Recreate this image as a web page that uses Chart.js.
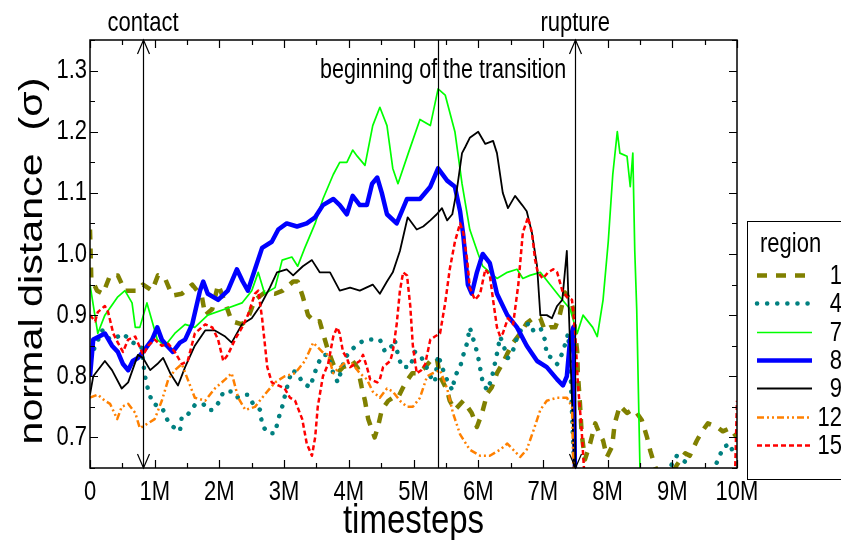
<!DOCTYPE html>
<html>
<head>
<meta charset="utf-8">
<script src="https://cdn.jsdelivr.net/npm/chart.js@4.4.1/dist/chart.umd.min.js"></script>
<style>
  html, body { margin: 0; padding: 0; background: #fff; }
  canvas { display: block; }
</style>
</head>
<body>
<canvas id="c" width="841" height="540"></canvas>
<script>
// Normal distance per region versus simulation timesteps (in millions).
const xTicks = [0, 1, 2, 3, 4, 5, 6, 7, 8, 9, 10];
const yTicks = [0.7, 0.8, 0.9, 1.0, 1.1, 1.2, 1.3];
const regionNames = ['1', '4', '7', '8', '9', '12', '15'];
const xTitle = 'timesteps';
const yTitle = 'normal distance  (σ)';
const legendTitle = 'region';

const events = [
  { t: 0.82, label: 'contact', arrows: true },
  { t: 5.38, label: 'beginning of the transition', arrows: false },
  { t: 7.5, label: 'rupture', arrows: true }
];

// [timestep (M), distance]; null breaks the curve where it leaves the plotted range
const region1 = [[0,1.04],[0.02,0.96],[0.11,0.94],[0.2,0.935],[0.31,0.965],[0.43,0.965],[0.54,0.94],[0.74,0.94],[0.82,0.95],[0.96,0.94],[1.05,0.965],[1.16,0.96],[1.27,0.932],[1.42,0.935],[1.58,0.95],[1.73,0.93],[1.78,0.9],[1.89,0.91],[1.98,0.95],[2.09,0.92],[2.19,0.89],[2.35,0.885],[2.44,0.895],[2.55,0.925],[2.7,0.937],[2.86,0.935],[2.98,0.94],[3.14,0.955],[3.21,0.955],[3.29,0.93],[3.37,0.9],[3.48,0.888],[3.55,0.89],[3.63,0.86],[3.68,0.842],[3.76,0.82],[3.83,0.806],[3.91,0.815],[3.99,0.818],[4.06,0.825],[4.14,0.813],[4.2,0.782],[4.25,0.76],[4.3,0.73],[4.36,0.712],[4.4,0.7],[4.45,0.717],[4.51,0.745],[4.61,0.76],[4.68,0.765],[4.76,0.765],[4.84,0.782],[4.9,0.793],[4.98,0.805],[5.07,0.805],[5.18,0.815],[5.26,0.825],[5.36,0.83],[5.41,0.8],[5.52,0.777],[5.56,0.76],[5.64,0.745],[5.77,0.76],[5.9,0.74],[5.98,0.717],[6.06,0.74],[6.14,0.772],[6.21,0.782],[6.29,0.805],[6.37,0.82],[6.45,0.837],[6.54,0.855],[6.65,0.87],[6.75,0.887],[6.85,0.895],[6.96,0.895],[7.03,0.875],[7.11,0.88],[7.19,0.88],[7.26,0.9],[7.34,0.937],[7.42,0.925],[7.47,0.91],[7.5,0.87],[7.53,0.84],[7.54,0.805],[7.57,0.76],[7.6,0.705],[7.65,0.664],[7.73,0.69],[7.81,0.723],[7.88,0.705],[7.93,0.695],[7.99,0.668],[8.07,0.685],[8.11,0.723],[8.19,0.752],[8.3,0.74],[8.38,0.745],[8.42,0.745],[8.53,0.728],[8.61,0.7],[8.66,0.678],[8.7,0.664],[8.76,0.645],[8.8,null],[9.02,0.645],[9.07,0.655],[9.13,0.664],[9.2,0.674],[9.27,0.67],[9.38,0.695],[9.46,0.71],[9.55,0.723],[9.69,0.717],[9.78,0.71],[9.89,0.715],[10,0.7]];

const region4 = [[0,0.83],[0.19,0.875],[0.31,0.86],[0.43,0.865],[0.51,0.87],[0.66,0.855],[0.79,0.85],[0.85,0.8],[0.9,0.777],[0.97,0.755],[1.11,0.75],[1.21,0.725],[1.31,0.715],[1.39,0.71],[1.42,0.735],[1.51,0.737],[1.62,0.753],[1.75,0.755],[1.82,0.745],[1.9,0.745],[2.01,0.76],[2.06,0.775],[2.19,0.775],[2.27,0.765],[2.35,0.77],[2.44,0.77],[2.52,0.755],[2.63,0.745],[2.66,0.72],[2.75,0.707],[2.86,0.707],[2.91,0.73],[2.97,0.75],[3.04,0.78],[3.12,0.81],[3.21,0.805],[3.28,0.79],[3.4,0.782],[3.52,0.82],[3.6,0.835],[3.68,0.835],[3.76,0.805],[3.83,0.79],[3.94,0.83],[4.06,0.845],[4.17,0.855],[4.28,0.86],[4.37,0.86],[4.48,0.86],[4.56,0.84],[4.67,0.85],[4.71,0.86],[4.76,0.835],[4.82,0.815],[4.95,0.815],[5.02,0.84],[5.1,0.835],[5.18,0.82],[5.26,0.8],[5.33,0.79],[5.38,0.835],[5.49,0.8],[5.6,0.777],[5.64,0.8],[5.72,0.815],[5.77,0.835],[5.83,0.855],[5.87,0.88],[5.92,0.862],[5.99,0.837],[6.07,0.79],[6.14,0.777],[6.21,0.797],[6.29,0.837],[6.34,0.865],[6.46,0.83],[6.54,0.843],[6.62,0.87],[6.72,0.883],[6.8,0.887],[6.85,0.875],[6.96,0.88],[7.03,0.86],[7.06,0.835],[7.14,0.83],[7.22,0.82],[7.31,0.84],[7.39,0.87],[7.43,0.8],[7.47,0.68],[7.53,0.63],[7.56,null],[8.93,0.64],[8.96,0.65],[9.07,0.67],[9.2,0.66],[9.27,0.645],[9.3,null],[9.6,0.645],[9.63,0.648],[9.71,0.663],[9.78,0.683],[9.89,0.69],[9.94,0.675],[10,0.67]];

const region7 = [[0,0.95],[0.12,0.87],[0.23,0.9],[0.43,0.93],[0.54,0.94],[0.65,0.92],[0.7,0.88],[0.77,0.88],[0.88,0.92],[1.04,0.86],[1.16,0.85],[1.31,0.87],[1.47,0.885],[1.62,0.88],[1.82,0.9],[2.09,0.91],[2.35,0.92],[2.5,0.94],[2.6,0.97],[2.7,0.935],[2.86,0.945],[2.97,0.99],[3.12,0.995],[3.21,0.98],[3.32,1.01],[3.48,1.05],[3.6,1.09],[3.76,1.13],[3.86,1.15],[3.97,1.15],[4.06,1.17],[4.13,1.16],[4.25,1.145],[4.37,1.21],[4.48,1.24],[4.59,1.21],[4.68,1.14],[4.76,1.115],[4.92,1.165],[5.1,1.22],[5.26,1.21],[5.38,1.27],[5.49,1.26],[5.64,1.2],[5.75,1.115],[5.87,1.04],[6.0,1.0],[6.07,0.98],[6.29,0.96],[6.45,0.97],[6.6,0.975],[6.69,0.96],[6.8,0.965],[6.96,0.97],[7.11,0.95],[7.26,0.93],[7.42,0.91],[7.53,0.87],[7.62,0.9],[7.77,0.88],[7.84,0.865],[7.93,0.925],[8.01,1.02],[8.08,1.13],[8.15,1.2],[8.19,1.165],[8.3,1.16],[8.35,1.11],[8.39,1.165],[8.42,1.005],[8.45,0.91],[8.5,0.65],[8.52,0.6]];

const region8 = [[0,0.8],[0.05,0.86],[0.23,0.87],[0.34,0.85],[0.43,0.84],[0.51,0.82],[0.59,0.81],[0.66,0.825],[0.74,0.83],[0.82,0.84],[0.96,0.86],[1.04,0.88],[1.11,0.86],[1.19,0.85],[1.28,0.84],[1.39,0.855],[1.47,0.86],[1.58,0.885],[1.7,0.94],[1.75,0.955],[1.82,0.935],[1.98,0.925],[2.13,0.94],[2.27,0.975],[2.36,0.955],[2.44,0.94],[2.55,0.975],[2.66,1.01],[2.81,1.02],[2.91,1.04],[3.04,1.05],[3.2,1.045],[3.35,1.05],[3.48,1.06],[3.6,1.08],[3.76,1.09],[3.86,1.08],[3.97,1.065],[4.06,1.095],[4.17,1.08],[4.28,1.08],[4.36,1.115],[4.44,1.125],[4.51,1.1],[4.59,1.065],[4.74,1.05],[4.9,1.09],[5.1,1.09],[5.26,1.11],[5.38,1.14],[5.52,1.12],[5.64,1.11],[5.72,1.07],[5.77,1.03],[5.84,0.95],[5.9,0.935],[5.98,0.97],[6.07,1.0],[6.18,0.985],[6.29,0.935],[6.45,0.9],[6.6,0.88],[6.75,0.85],[6.91,0.825],[7.06,0.815],[7.22,0.795],[7.31,0.785],[7.37,0.8],[7.42,0.86],[7.47,0.88],[7.5,0.6]];

const region9 = [[0,0.77],[0.05,0.8],[0.23,0.825],[0.34,0.81],[0.49,0.78],[0.59,0.79],[0.74,0.835],[0.82,0.83],[0.93,0.81],[1.04,0.82],[1.13,0.83],[1.24,0.805],[1.36,0.785],[1.47,0.815],[1.62,0.85],[1.78,0.875],[1.93,0.875],[2.09,0.865],[2.19,0.855],[2.35,0.885],[2.5,0.895],[2.63,0.915],[2.78,0.945],[2.89,0.97],[3.04,0.975],[3.14,0.965],[3.29,0.98],[3.43,0.99],[3.55,0.97],[3.71,0.97],[3.86,0.94],[4.02,0.945],[4.17,0.94],[4.37,0.95],[4.48,0.935],[4.59,0.955],[4.68,0.97],[4.79,1.005],[4.91,1.06],[5.05,1.04],[5.15,1.045],[5.26,1.055],[5.36,1.065],[5.44,1.075],[5.52,1.055],[5.6,1.065],[5.67,1.105],[5.75,1.165],[5.8,1.175],[5.87,1.19],[6.0,1.2],[6.11,1.18],[6.23,1.185],[6.29,1.165],[6.38,1.1],[6.46,1.075],[6.57,1.095],[6.68,1.08],[6.75,1.07],[6.83,1.035],[6.91,0.98],[6.96,0.9],[7.06,0.9],[7.14,0.895],[7.22,0.915],[7.3,0.925],[7.37,1.005],[7.4,0.91],[7.45,0.76],[7.5,0.6]];

const region12 = [[0,0.765],[0.12,0.77],[0.23,0.76],[0.31,0.755],[0.42,0.73],[0.49,0.75],[0.59,0.755],[0.7,0.74],[0.77,0.715],[0.85,0.72],[1.0,0.73],[1.11,0.76],[1.21,0.795],[1.31,0.81],[1.42,0.82],[1.51,0.795],[1.62,0.765],[1.78,0.76],[1.93,0.78],[2.09,0.795],[2.19,0.805],[2.29,0.765],[2.4,0.745],[2.55,0.75],[2.7,0.77],[2.86,0.79],[3.01,0.8],[3.17,0.805],[3.32,0.825],[3.45,0.855],[3.59,0.84],[3.68,0.835],[3.76,0.805],[3.86,0.815],[3.97,0.825],[4.06,0.82],[4.17,0.805],[4.28,0.795],[4.37,0.775],[4.48,0.765],[4.59,0.78],[4.68,0.775],[4.79,0.76],[4.9,0.75],[4.99,0.75],[5.1,0.765],[5.21,0.8],[5.3,0.805],[5.41,0.81],[5.52,0.78],[5.61,0.74],[5.72,0.705],[5.87,0.68],[6.03,0.67],[6.18,0.67],[6.34,0.68],[6.45,0.69],[6.54,0.68],[6.65,0.668],[6.75,0.68],[6.85,0.71],[6.96,0.745],[7.06,0.76],[7.22,0.765],[7.37,0.765],[7.45,0.75],[7.48,0.6]];

const region15 = [[0,0.9],[0.08,0.89],[0.12,0.905],[0.23,0.915],[0.28,0.905],[0.36,0.87],[0.43,0.855],[0.51,0.84],[0.59,0.86],[0.7,0.865],[0.82,0.835],[0.9,0.85],[1.0,0.86],[1.11,0.85],[1.21,0.853],[1.31,0.84],[1.42,0.82],[1.51,0.825],[1.62,0.87],[1.78,0.885],[1.89,0.88],[1.98,0.86],[2.06,0.825],[2.13,0.835],[2.24,0.86],[2.35,0.88],[2.44,0.9],[2.55,0.935],[2.6,0.94],[2.66,0.895],[2.74,0.815],[2.81,0.79],[2.91,0.785],[3.01,0.78],[3.09,0.765],[3.17,0.76],[3.28,0.73],[3.35,0.69],[3.43,0.67],[3.48,0.7],[3.52,0.75],[3.6,0.8],[3.68,0.82],[3.76,0.865],[3.82,0.88],[3.86,0.87],[3.91,0.84],[3.97,0.83],[4.02,0.815],[4.1,0.82],[4.17,0.825],[4.22,0.835],[4.28,0.815],[4.33,0.795],[4.44,0.79],[4.48,0.795],[4.53,0.815],[4.64,0.825],[4.68,0.84],[4.74,0.885],[4.79,0.94],[4.84,0.97],[4.9,0.965],[4.95,0.915],[4.99,0.85],[5.05,0.805],[5.12,0.81],[5.18,0.82],[5.26,0.86],[5.33,0.865],[5.41,0.87],[5.49,0.92],[5.56,0.975],[5.64,1.02],[5.72,1.05],[5.77,1.035],[5.83,0.99],[5.87,0.945],[5.95,0.925],[6.03,0.935],[6.11,0.975],[6.18,0.965],[6.23,0.925],[6.29,0.88],[6.34,0.865],[6.38,0.87],[6.46,0.895],[6.54,0.885],[6.62,0.95],[6.69,1.035],[6.77,1.06],[6.83,1.035],[6.88,0.99],[6.92,0.97],[7.0,0.96],[7.08,0.97],[7.16,0.975],[7.22,0.97],[7.3,0.94],[7.37,0.93],[7.45,0.925],[7.5,0.87],[7.54,0.79],[7.6,0.71],[7.64,0.64],[7.68,null],[9.15,0.64],[9.22,0.648],[9.3,0.64],[9.33,null],[9.97,0.64],[10,0.76]];

const regionSeries = [region1, region4, region7, region8, region9, region12, region15];
const regionColors = ['#808000', '#008080', '#00ff00', '#0000ff', '#000000', '#ff8000', '#ff0000'];
const regionWidths = [4.5, 4.5, 1.7, 4.5, 1.8, 2.5, 2.5];
const regionDashes = [[10, 9], [0.1, 10], [], [], [], [7, 3, 2, 3, 2, 3], [5, 3]];
const regionCaps = ['butt', 'round', 'butt', 'butt', 'butt', 'butt', 'butt'];

const FONT = '"Liberation Sans", Arial, Helvetica, sans-serif';
const TEXT_STRETCH = 1.25; // lettering is drawn tall and condensed
Chart.defaults.font.family = FONT;
Chart.defaults.color = '#000';

const datasets = regionNames.map((name, i) => ({
  label: name,
  data: regionSeries[i].map(([t, v]) => ({ x: t, y: v })),
  borderColor: regionColors[i],
  borderWidth: regionWidths[i],
  borderDash: regionDashes[i],
  borderCapStyle: regionCaps[i],
  borderJoinStyle: 'round',
  fill: false,
  pointRadius: 0,
  tension: 0,
  spanGaps: false,
  order: regionNames.length - i,
  clip: { left: 0, top: 0, right: 0, bottom: 0 }
}));

// Text stretched along the page's vertical direction
function tallText(ctx, text, x, y, size, align, baseline, rotated) {
  ctx.save();
  ctx.translate(x, y);
  if (rotated) {
    ctx.rotate(-Math.PI / 2);
    ctx.scale(TEXT_STRETCH, 1);
  } else {
    ctx.scale(1, TEXT_STRETCH);
  }
  ctx.font = size + 'px ' + FONT;
  ctx.textAlign = align;
  ctx.textBaseline = baseline;
  ctx.fillStyle = '#000';
  ctx.fillText(text, 0, 0);
  ctx.restore();
}

// Box frame, inward ticks on all four sides, tick labels, titles, event markers and the legend box
const framePlugin = {
  id: 'framePlugin',
  afterDatasetsDraw(chart) {
    const { ctx, chartArea: a, scales: { x, y } } = chart;
    ctx.save();
    ctx.strokeStyle = '#000';

    // event lines with open arrowheads
    ctx.lineWidth = 1.2;
    events.forEach(ev => {
      const px = Math.round(x.getPixelForValue(ev.t)) + 0.5;
      ctx.beginPath();
      ctx.moveTo(px, a.top);
      ctx.lineTo(px, a.bottom);
      ctx.stroke();
      if (ev.arrows) {
        ctx.beginPath();
        ctx.moveTo(px - 6, a.top + 14); ctx.lineTo(px, a.top); ctx.lineTo(px + 6, a.top + 14);
        ctx.moveTo(px - 6, a.bottom - 14); ctx.lineTo(px, a.bottom); ctx.lineTo(px + 6, a.bottom - 14);
        ctx.stroke();
      }
    });

    // frame
    ctx.lineWidth = 1.5;
    ctx.strokeRect(a.left, a.top, a.right - a.left, a.bottom - a.top);

    // ticks
    ctx.lineWidth = 1.2;
    ctx.beginPath();
    const xmin = xTicks[0], xmax = xTicks[xTicks.length - 1];
    for (let k = 0; k <= (xmax - xmin) * 2; k++) {
      const v = xmin + k * 0.5;
      const len = k % 2 === 0 ? 8 : 5;
      const px = Math.round(x.getPixelForValue(v)) + 0.5;
      ctx.moveTo(px, a.bottom); ctx.lineTo(px, a.bottom - len);
      ctx.moveTo(px, a.top); ctx.lineTo(px, a.top + len);
    }
    for (let v = y.min; v <= y.max + 1e-6; v += 0.05) {
      const major = yTicks.some(t => Math.abs(t - v) < 1e-6);
      const len = major ? 8 : 5;
      const py = Math.round(y.getPixelForValue(v)) + 0.5;
      ctx.moveTo(a.left, py); ctx.lineTo(a.left + len, py);
      ctx.moveTo(a.right, py); ctx.lineTo(a.right - len, py);
    }
    ctx.stroke();

    // tick labels
    xTicks.forEach(v => {
      tallText(ctx, v === 0 ? '0' : v + 'M', x.getPixelForValue(v), a.bottom + 32, 22, 'center', 'alphabetic');
    });
    yTicks.forEach(v => {
      tallText(ctx, v.toFixed(1), a.left - 3, y.getPixelForValue(v), 22, 'right', 'middle');
    });

    // axis titles
    tallText(ctx, xTitle, (a.left + a.right) / 2, 533, 33, 'center', 'alphabetic');
    tallText(ctx, yTitle, 42, 261, 33, 'center', 'alphabetic', true);

    // event labels
    events.forEach(ev => {
      const px = x.getPixelForValue(ev.t);
      if (ev.arrows) tallText(ctx, ev.label, px, a.top - 9, 22, 'center', 'alphabetic');
      else tallText(ctx, ev.label, px + 5, a.top + 38, 21.5, 'center', 'alphabetic');
    });
    ctx.restore();
  },
  afterDraw(chart) {
    const { ctx } = chart;
    ctx.save();
    const bx = 747.5, by = 221.5, bw = 120, bh = 258;
    ctx.fillStyle = '#fff';
    ctx.fillRect(bx, by, bw, bh);
    ctx.strokeStyle = '#000';
    ctx.lineWidth = 1;
    ctx.strokeRect(bx, by, bw, bh);

    tallText(ctx, legendTitle, 760, 252, 22, 'left', 'alphabetic');

    chart.data.datasets.forEach((ds, i) => {
      const ly = Math.round(275 + i * 28.3) + 0.5;
      ctx.save();
      ctx.strokeStyle = ds.borderColor;
      ctx.lineWidth = ds.borderWidth;
      ctx.setLineDash(ds.borderDash);
      ctx.lineCap = ds.borderCapStyle;
      ctx.beginPath();
      ctx.moveTo(757, ly);
      ctx.lineTo(812, ly);
      ctx.stroke();
      ctx.restore();
      tallText(ctx, ds.label, 842, ly + 1, 22, 'right', 'middle');
    });
    ctx.restore();
  }
};

new Chart(document.getElementById('c'), {
  type: 'line',
  data: { datasets },
  options: {
    responsive: false,
    animation: false,
    devicePixelRatio: 1,
    layout: { padding: { top: 40, right: 104, left: 0, bottom: 0 } },
    plugins: { legend: { display: false }, tooltip: { enabled: false } },
    scales: {
      x: {
        type: 'linear',
        min: xTicks[0],
        max: xTicks[xTicks.length - 1],
        afterBuildTicks: s => { s.ticks = xTicks.map(v => ({ value: v })); },
        afterFit: s => { s.height = 72; },
        grid: { display: false, drawTicks: false },
        border: { display: false },
        ticks: { display: false }
      },
      y: {
        type: 'linear',
        min: 0.65,
        max: 1.35,
        afterBuildTicks: s => { s.ticks = yTicks.map(v => ({ value: v })); },
        afterFit: s => { s.width = 90; },
        grid: { display: false, drawTicks: false },
        border: { display: false },
        ticks: { display: false }
      }
    }
  },
  plugins: [framePlugin]
});
</script>
</body>
</html>
